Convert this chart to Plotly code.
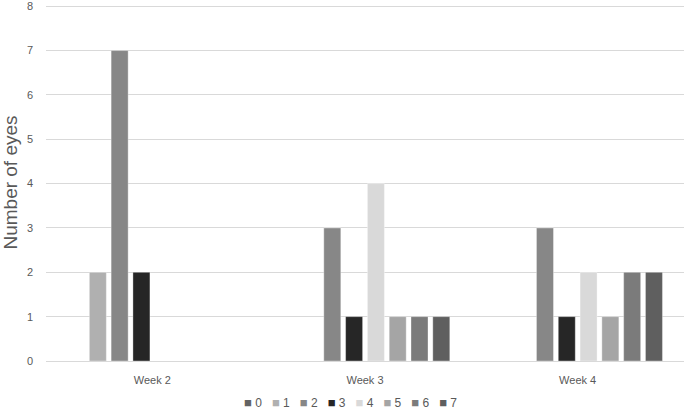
import plotly.graph_objects as go

categories = ["Week 2", "Week 3", "Week 4"]
series_names = ["0", "1", "2", "3", "4", "5", "6", "7"]
values = {
    "0": [0, 0, 0],
    "1": [2, 0, 0],
    "2": [7, 3, 3],
    "3": [2, 1, 1],
    "4": [0, 4, 2],
    "5": [0, 1, 1],
    "6": [0, 1, 2],
    "7": [0, 1, 2],
}
colors = ["#636363", "#b0b0b0", "#878787", "#262626", "#d9d9d9", "#a5a5a5", "#7b7b7b", "#5f5f5f"]
y_ticks = [0, 1, 2, 3, 4, 5, 6, 7, 8]

fig = go.Figure()
for name, col in zip(series_names, colors):
    vals = values[name]
    fig.add_trace(go.Bar(
        x=categories, y=vals, name=name,
        marker=dict(color=col,
                    line=dict(color="rgba(255,255,255,0.35)",
                              width=[1 if v > 0 else 0 for v in vals])),
    ))

# legend built as a single text line (compact Excel-style legend)
legend_text = "\u00a0\u00a0\u00a0".join(
    f"<span style='color:{c};font-size:13px'>■</span> {n}" for n, c in zip(series_names, colors)
)
fig.add_annotation(text=legend_text, xref="paper", yref="paper", x=0.478, y=-0.117,
                   xanchor="center", yanchor="middle", showarrow=False,
                   font=dict(size=12, color="#595959"))

fig.update_layout(
    width=685, height=411,
    barmode="group", bargap=0.18, bargroupgap=0.22,
    plot_bgcolor="white", paper_bgcolor="white",
    margin=dict(l=46, r=1, t=4, b=50),
    font=dict(family="Liberation Sans, Arial, sans-serif", color="#595959", size=11),
    showlegend=False,
)
fig.update_xaxes(showline=False, showgrid=False, ticks="", automargin=False,
                 ticklabelstandoff=11, tickfont=dict(size=11, color="#595959"))
fig.update_yaxes(range=[0, 8.05], tickvals=y_ticks, showgrid=True, gridcolor="#d9d9d9", gridwidth=1,
                 zeroline=True, zerolinecolor="#d9d9d9", zerolinewidth=1,
                 showline=False, ticks="", automargin=False,
                 ticklabelstandoff=12,
                 tickfont=dict(size=11, color="#595959"),
                 title=dict(text="Number of eyes", font=dict(size=19, color="#595959"), standoff=7))

fig.write_html("out.html", config={"displayModeBar": False},
               post_script="document.body.style.margin='0';")
